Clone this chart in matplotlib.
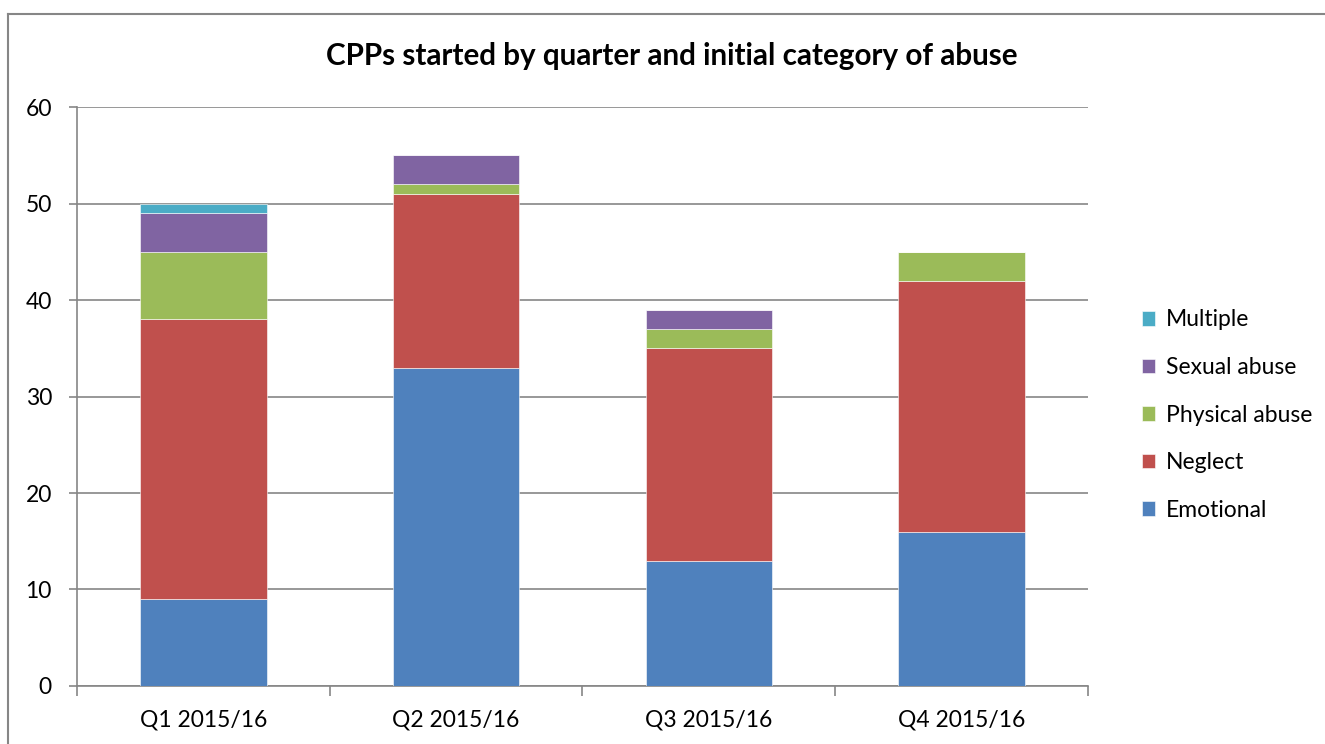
import matplotlib
matplotlib.use('Agg')
import matplotlib.pyplot as plt
from matplotlib.lines import Line2D
import numpy as np

plt.rcParams['font.family'] = ['Lato', 'DejaVu Sans']

quarters = ['Q1 2015/16', 'Q2 2015/16', 'Q3 2015/16', 'Q4 2015/16']
emotional = [9, 33, 13, 16]
neglect = [29, 18, 22, 26]
physical = [7, 1, 2, 3]
sexual = [4, 3, 2, 0]
multiple = [1, 0, 0, 0]

series = [('Emotional', emotional, '#4F81BD'),
          ('Neglect', neglect, '#C0504D'),
          ('Physical abuse', physical, '#9BBB59'),
          ('Sexual abuse', sexual, '#8064A2'),
          ('Multiple', multiple, '#4BACC6')]

fig = plt.figure(figsize=(13.25, 7.44), dpi=100)
ax = fig.add_axes([0.0581, 0.078, 0.763, 0.778])

x = np.arange(len(quarters))
bottom = np.zeros(len(quarters))
handles = []
for name, vals, col in series:
    b = ax.bar(x, vals, 0.5, bottom=bottom, color=col, label=name,
               edgecolor='white', linewidth=0.4, zorder=3)
    handles.append(b)
    bottom += np.array(vals)

grid_col = '#868686'
ax.set_xlim(-0.5, 3.5)
ax.set_ylim(0, 60)
ax.set_yticks(range(0, 61, 10))
ax.yaxis.grid(True, color=grid_col, linewidth=1.2, zorder=0)
ax.set_xticks(x)
ax.set_xticklabels(quarters, fontsize=16.5)
ax.tick_params(axis='x', length=0, pad=17)
ax.set_xticks(np.arange(-0.5, 4, 1), minor=True)
ax.tick_params(axis='x', which='minor', length=7, color=grid_col, width=1.2)
ax.tick_params(axis='y', labelsize=16.5, length=6, color=grid_col, width=1.2, pad=12)
for s in ['top', 'right']:
    ax.spines[s].set_visible(False)
ax.spines['left'].set_color(grid_col)
ax.spines['bottom'].set_color(grid_col)
ax.spines['left'].set_linewidth(1.2)
ax.spines['bottom'].set_linewidth(1.2)

fig.text(0.507, 0.925, 'CPPs started by quarter and initial category of abuse',
         ha='center', va='center', fontsize=21.3, fontweight='bold')

leg = fig.legend(handles[::-1], [s[0] for s in series][::-1],
                 loc='center left', bbox_to_anchor=(0.846, 0.442),
                 frameon=False, fontsize=16.5, labelspacing=1.16,
                 handlelength=0.6, handleheight=0.6, handletextpad=0.45)

# outer chart border
fig.add_artist(Line2D([0.006, 0.006], [0.0, 0.981], color=grid_col, linewidth=1.5))
fig.add_artist(Line2D([0.006, 1.0], [0.981, 0.981], color=grid_col, linewidth=1.5))

fig.savefig('out.png', dpi=100)
